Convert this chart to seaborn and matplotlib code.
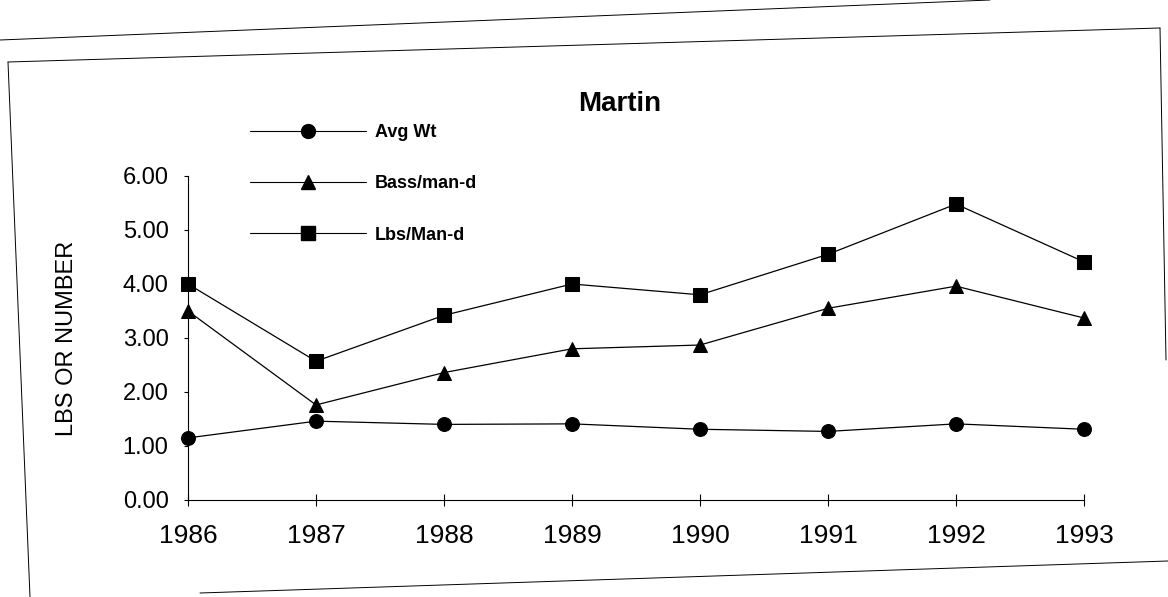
import pandas as pd
import seaborn as sns
import matplotlib.pyplot as plt
from matplotlib.lines import Line2D

# values
years = [1986, 1987, 1988, 1989, 1990, 1991, 1992, 1993]
avg_wt = [1.15, 1.46, 1.40, 1.41, 1.31, 1.27, 1.41, 1.31]
bass_man_d = [3.50, 1.76, 2.36, 2.80, 2.87, 3.55, 3.96, 3.37]
lbs_man_d = [4.00, 2.57, 3.42, 4.00, 3.80, 4.55, 5.48, 4.41]
series_names = ["Avg Wt", "Bass/man-d", "Lbs/Man-d"]
y_ticks = [0, 1, 2, 3, 4, 5, 6]

df = pd.DataFrame({
    "Year": years * 3,
    "Value": avg_wt + bass_man_d + lbs_man_d,
    "Series": [n for n in series_names for _ in years],
})
marker_map = {"Avg Wt": "o", "Bass/man-d": "^", "Lbs/Man-d": "s"}

sns.set_theme(style="white")
plt.rcParams["font.family"] = ["Liberation Sans", "DejaVu Sans"]
plt.rcParams.update({"text.color": "black", "axes.labelcolor": "black",
                     "xtick.color": "black", "ytick.color": "black"})

W, H = 1168, 597
fig = plt.figure(figsize=(W / 100, H / 100), dpi=100)
ax = fig.add_axes([188 / W, 1 - 500 / H, (1084 - 188) / W, (500 - 176) / H])

sns.lineplot(
    data=df, x="Year", y="Value", style="Series",
    markers=marker_map, dashes=False, color="black",
    linewidth=0.9, markersize=10, markeredgecolor="black",
    legend=False, ax=ax,
)
for ln in ax.lines:
    ln.set_clip_on(False)

ax.set_xlim(years[0], years[-1])
ax.set_ylim(0, 6)
ax.set_xticks(years)
ax.set_yticks(y_ticks)
ax.set_yticklabels([f"{v:.2f}" for v in y_ticks])
ax.set_xlabel("")
ax.set_ylabel("LBS OR NUMBER", fontsize=17)
ax.yaxis.set_label_coords(-0.123, 0.5)

for s in ["top", "right"]:
    ax.spines[s].set_visible(False)
for s in ["left", "bottom"]:
    ax.spines[s].set_color("black")
    ax.spines[s].set_linewidth(0.8)

ax.tick_params(axis="x", bottom=True, direction="inout", length=8, width=0.8,
               pad=13, labelsize=19)
ax.tick_params(axis="y", left=True, direction="out", length=3, width=0.8,
               pad=11, labelsize=17)

ax.set_title("Martin", x=0.482, pad=47, fontsize=20, fontweight="bold")

handles = [Line2D([], [], color="black", linewidth=0.8, marker=marker_map[n],
                  markersize=10) for n in series_names]
fig.legend(handles, series_names, loc="upper left",
           bbox_to_anchor=(250 / W, 1 - 124 / H), frameon=False,
           prop={"size": 13, "weight": "bold"}, handlelength=6.4,
           handletextpad=0.5, labelspacing=1.9, borderpad=0, borderaxespad=0)

# edges of the scanned page box
def px(x, y):
    return x / W, 1 - y / H

for (x0, y0), (x1, y1) in [((8, 62), (1160, 28)), ((8, 62), (30, 597)),
                           ((1160, 28), (1166, 360)), ((200, 593), (1168, 561)),
                           ((0, 40), (990, 0))]:
    a, b = px(x0, y0)
    c, d = px(x1, y1)
    fig.add_artist(Line2D([a, c], [b, d], color="black", linewidth=0.7,
                          transform=fig.transFigure))

fig.savefig("out.png", dpi=100)
print("saved out.png")
